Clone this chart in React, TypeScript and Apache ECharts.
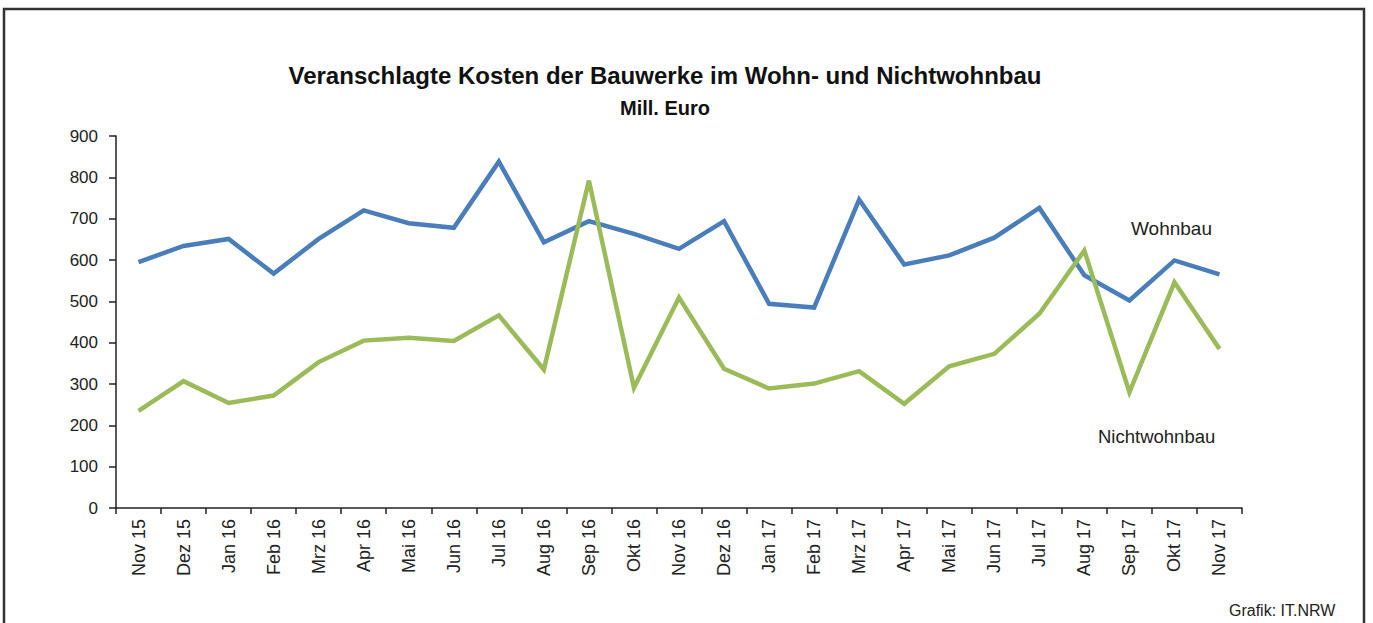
import React, { useEffect, useRef } from "react";
import * as echarts from "echarts";

const categories = [
  "Nov 15", "Dez 15", "Jan 16", "Feb 16", "Mrz 16", "Apr 16", "Mai 16", "Jun 16", "Jul 16",
  "Aug 16", "Sep 16", "Okt 16", "Nov 16", "Dez 16", "Jan 17", "Feb 17", "Mrz 17", "Apr 17",
  "Mai 17", "Jun 17", "Jul 17", "Aug 17", "Sep 17", "Okt 17", "Nov 17",
];

const wohnbau = [
  595, 634, 651, 567, 651, 720, 689, 678, 838, 643, 694, 663, 627, 694, 494, 485, 746, 589,
  611, 654, 726, 563, 502, 599, 565,
];

const nichtwohnbau = [
  235, 307, 254, 272, 353, 405, 412, 404, 466, 335, 792, 291, 509, 337, 289, 301, 331, 252,
  343, 373, 470, 623, 280, 546, 385,
];

const FONT = "'Liberation Sans', Arial, sans-serif";
const TXT = "#222";

export default function App() {
  const ref = useRef<HTMLDivElement>(null);
  useEffect(() => {
    if (!ref.current) return;
    const chart = echarts.init(ref.current, null, { renderer: "svg" });
    chart.setOption({
      animation: false,
      backgroundColor: "#fff",
      textStyle: { fontFamily: FONT },
      title: [
        {
          text: "Veranschlagte Kosten der Bauwerke im Wohn- und Nichtwohnbau",
          left: 660,
          textAlign: "center",
          top: 58,
          textStyle: { fontFamily: FONT, fontSize: 24, fontWeight: "bold", color: "#111" },
        },
        {
          text: "Mill. Euro",
          left: 660,
          textAlign: "center",
          top: 93,
          textStyle: { fontFamily: FONT, fontSize: 20, fontWeight: "bold", color: "#111" },
        },
      ],
      grid: { left: 116, right: 131, top: 136, bottom: 115 },
      xAxis: {
        type: "category",
        data: categories,
        boundaryGap: true,
        axisLine: { lineStyle: { color: TXT, width: 1.5 } },
        axisTick: { show: true, length: 6, lineStyle: { color: TXT, width: 1.5 } },
        axisLabel: { rotate: 90, interval: 0, fontSize: 18, color: TXT, fontFamily: FONT, margin: 11 },
      },
      yAxis: {
        type: "value",
        min: 0,
        max: 900,
        interval: 100,
        splitLine: { show: false },
        axisLine: { show: true, lineStyle: { color: TXT, width: 1.5 } },
        axisTick: { show: true, length: 7, lineStyle: { color: TXT, width: 1.5 } },
        axisLabel: { fontSize: 17, color: TXT, fontFamily: FONT, margin: 18 },
      },
      series: [
        {
          name: "Wohnbau",
          type: "line",
          data: wohnbau,
          symbol: "none",
          lineStyle: { color: "#4A7EBB", width: 4.5, join: "miter" },
          itemStyle: { color: "#4A7EBB" },
        },
        {
          name: "Nichtwohnbau",
          type: "line",
          data: nichtwohnbau,
          symbol: "none",
          lineStyle: { color: "#9BBB59", width: 4.5, join: "miter" },
          itemStyle: { color: "#9BBB59" },
        },
      ],
      graphic: [
        {
          type: "rect",
          shape: { x: 4, y: 9, width: 1360, height: 630 },
          style: { fill: "none", stroke: "#333", lineWidth: 2.5 },
          silent: true,
        },
        {
          type: "text",
          x: 1131,
          y: 219,
          style: { text: "Wohnbau", fontSize: 19, fill: TXT, fontFamily: FONT },
        },
        {
          type: "text",
          x: 1098,
          y: 427,
          style: { text: "Nichtwohnbau", fontSize: 18.5, fill: TXT, fontFamily: FONT },
        },
        {
          type: "text",
          x: 1229,
          y: 602,
          style: { text: "Grafik: IT.NRW", fontSize: 16, fill: TXT, fontFamily: FONT },
        },
      ],
    });
    return () => chart.dispose();
  }, []);
  return (
    <div
      ref={ref}
      style={{ position: "fixed", left: 0, top: 0, width: 1373, height: 623, background: "#fff" }}
    />
  );
}
